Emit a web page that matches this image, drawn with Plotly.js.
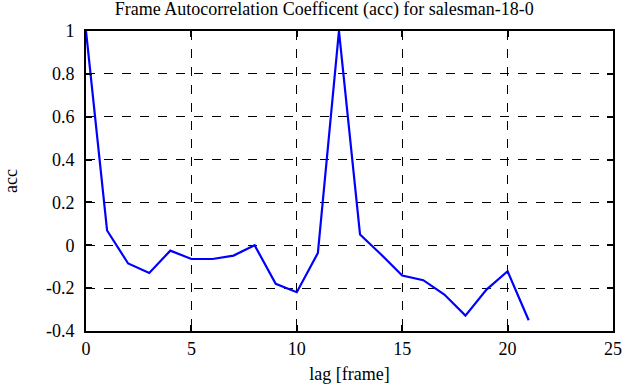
<!DOCTYPE html>
<html>
<head>
<meta charset="utf-8">
<script src="https://cdn.plot.ly/plotly-3.0.1.min.js"></script>
<style>html,body{margin:0;padding:0;background:#fff;}#chart{width:641px;height:387px;}</style>
</head>
<body>
<div id="chart"></div>
<script>
const lags = [0,1,2,3,4,5,6,7,8,9,10,11,12,13,14,15,16,17,18,19,20,21];
const acc = [1.0,0.069,-0.085,-0.129,-0.025,-0.064,-0.064,-0.048,0.0,-0.18,-0.219,-0.036,1.0,0.05,-0.043,-0.141,-0.163,-0.23,-0.328,-0.207,-0.121,-0.35];
const xTicks = [0,5,10,15,20,25];
const yTicks = [-0.4,-0.2,0,0.2,0.4,0.6,0.8,1];
const yTickText = ['-0.4','-0.2','0','0.2','0.4','0.6','0.8','1'];
const titleText = 'Frame Autocorrelation Coefficent (acc) for salesman-18-0';
const xTitle = 'lag [frame]';
const yTitle = 'acc';

function mkFont(){ return {family:'Liberation Serif, Times New Roman, serif', size:18, color:'#000'}; }
function axisCommon(){ return {
  showline:true, linecolor:'#000', linewidth:2, mirror:'ticks',
  ticks:'inside', ticklen:6, tickwidth:2, tickcolor:'#000',
  showgrid:true, gridcolor:'#000', gridwidth:1, griddash:'dash',
  zeroline:false, tickfont:mkFont(), fixedrange:true
}; }
Plotly.newPlot('chart', [{
  x: lags, y: acc, type:'scatter', mode:'lines',
  line:{color:'#0000ff', width:2.2}
}], {
  width:641, height:387,
  margin:{l:86, r:28, t:31, b:56},
  paper_bgcolor:'#fff', plot_bgcolor:'#fff',
  font: mkFont(),
  showlegend:false,
  title:{text:titleText, font:mkFont(), x:0.506, xanchor:'center', y:0.993, yanchor:'top'},
  xaxis: Object.assign(axisCommon(), {
    range:[0,25], tickvals:xTicks, ticktext:xTicks.map(String),
    title:{text:xTitle, font:mkFont(), standoff:10}
  }),
  yaxis: Object.assign(axisCommon(), {
    range:[-0.4,1], tickvals:yTicks, ticktext:yTickText, ticklabelstandoff:6,
    title:{text:yTitle, font:mkFont(), standoff:24}
  })
}, {staticPlot:true});
</script>
</body>
</html>
